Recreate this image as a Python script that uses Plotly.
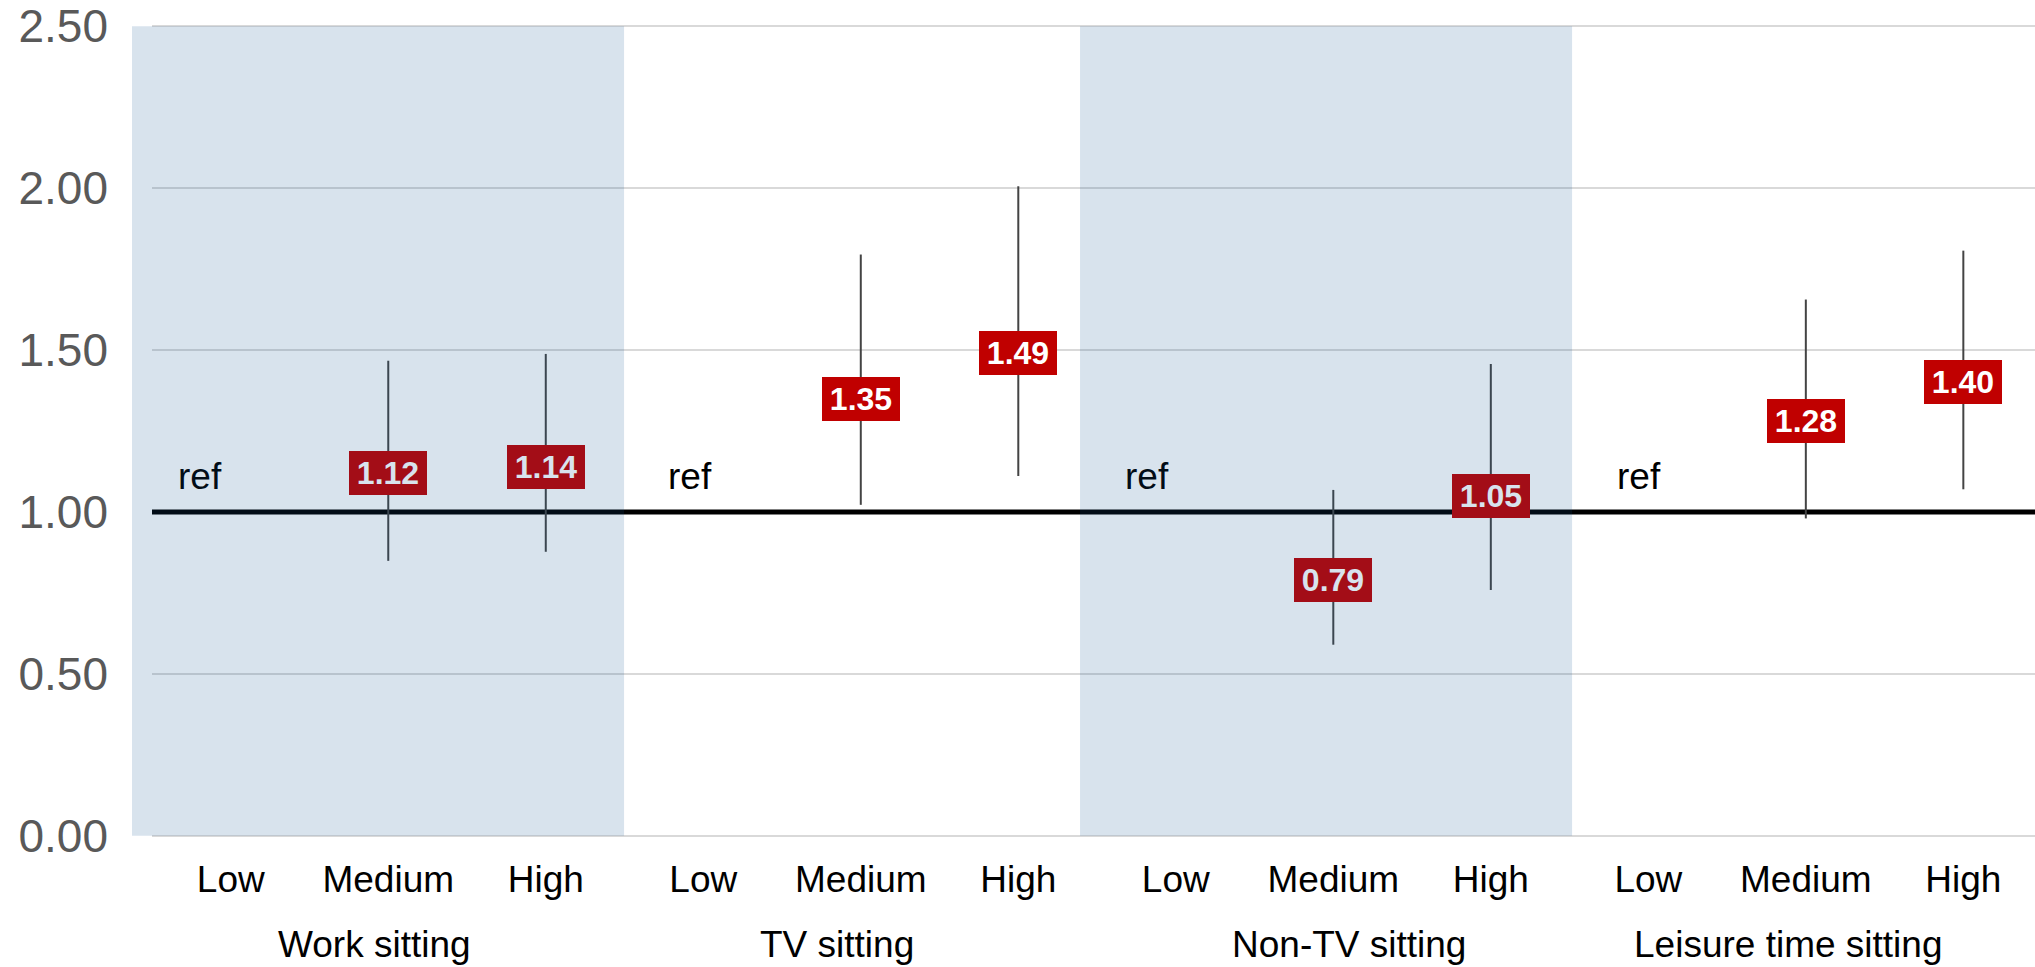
import plotly.graph_objects as go

# ---------------- data ----------------
groups = ["Work sitting", "TV sitting", "Non-TV sitting", "Leisure time sitting"]
levels = ["Low", "Medium", "High"]
hr = [None, 1.12, 1.14, None, 1.35, 1.49, None, 0.79, 1.05, None, 1.28, 1.40]
ci_low = [None, 0.849, 0.877, None, 1.022, 1.111, None, 0.590, 0.759, None, 0.980, 1.070]
ci_high = [None, 1.467, 1.488, None, 1.795, 2.006, None, 1.068, 1.457, None, 1.656, 1.807]
ref_value = 1.0
y_ticks = [0, 0.5, 1.0, 1.5, 2.0, 2.5]

# ---------------- layout constants ----------------
W, H = 2035, 967
XR = [-0.5, 11.455]
YR = [-0.01, 2.51]
FONT = "Liberation Sans, Arial, sans-serif"
OVERLAY = (11, 81, 144, 0.16)
shaded_groups = [0, 2]
band_x = [(-0.627, 2.497), (5.392, 8.516)]
ref_label_x = [-0.348, 2.763, 5.665, 8.789]
group_label_x = [0.913, 3.849, 7.097, 9.884]


def xp(v):
    return (v - XR[0]) / (XR[1] - XR[0])


def yp(v):
    return (v - YR[0]) / (YR[1] - YR[0])


def tint(rgb):
    r, g, b, a = OVERLAY
    return "rgb(%d,%d,%d)" % tuple(round(a * o + (1 - a) * c) for o, c in zip((r, g, b), rgb))


n = len(hr)
xs = list(range(n))
ticktext = [lv for _ in groups for lv in levels]

fig = go.Figure()

# confidence interval whiskers
ex, ey = [], []
for i in xs:
    if hr[i] is not None:
        ex += [i, i, None]
        ey += [ci_low[i], ci_high[i], None]
fig.add_trace(go.Scatter(x=ex, y=ey, mode="lines",
                         line=dict(color="#444444", width=2),
                         hoverinfo="skip", showlegend=False))

shapes = []
# reference line at 1
shapes.append(dict(type="line", xref="x", yref="y", x0=XR[0], x1=XR[1],
                   y0=ref_value, y1=ref_value, line=dict(color="#000000", width=5),
                   layer="between"))
# translucent group bands (drawn over everything)
for a, b in band_x:
    shapes.append(dict(type="rect", xref="paper", yref="paper",
                       x0=xp(a), x1=xp(b), y0=yp(0), y1=yp(2.5),
                       fillcolor="rgba(%d,%d,%d,%.2f)" % OVERLAY,
                       line=dict(width=0), layer="above"))

annotations = []
for i in xs:
    g = i // 3
    shaded = g in shaded_groups
    if hr[i] is not None:
        annotations.append(dict(
            x=i, y=hr[i], xref="x", yref="y", text="<b>%.2f</b>" % hr[i],
            showarrow=False, xanchor="center", yanchor="middle",
            width=78, height=44, borderpad=0, borderwidth=0,
            bgcolor=tint((192, 0, 0)) if shaded else "#c00000",
            font=dict(family=FONT, size=32,
                      color=tint((255, 255, 255)) if shaded else "#ffffff")))

for g, name in enumerate(groups):
    shaded = g in shaded_groups
    annotations.append(dict(
        x=ref_label_x[g], y=1.111, xref="x", yref="y", text="ref",
        showarrow=False, xanchor="left", yanchor="middle",
        font=dict(family=FONT, size=37, color=tint((0, 0, 0)) if shaded else "#000000")))
    annotations.append(dict(
        x=group_label_x[g], y=-0.1287, xref="x", yref="paper", text=name,
        showarrow=False, xanchor="center", yanchor="middle",
        font=dict(family=FONT, size=37, color="#000000")))

fig.update_layout(
    width=W, height=H,
    margin=dict(l=152, r=0, t=23, b=128, pad=0),
    paper_bgcolor="#ffffff", plot_bgcolor="#ffffff",
    shapes=shapes, annotations=annotations,
    showlegend=False,
    font=dict(family=FONT),
    xaxis=dict(range=XR, tickvals=xs, ticktext=ticktext, showgrid=False,
               zeroline=False, showline=False, ticks="",
               tickfont=dict(family=FONT, size=37, color="#000000"),
               ticklabelstandoff=15, fixedrange=True),
    yaxis=dict(range=YR, tickvals=y_ticks, tickformat=".2f", showgrid=True,
               gridcolor="#d9d9d9", gridwidth=2, zeroline=False, showline=False,
               ticks="", tickfont=dict(family=FONT, size=46, color="#595959"),
               ticklabelstandoff=43, ticklabeloverflow="allow", fixedrange=True),
)

fig.write_html("out.html",
               config={"displayModeBar": False},
               post_script="document.body.style.margin='0';document.body.style.overflow='hidden';")
